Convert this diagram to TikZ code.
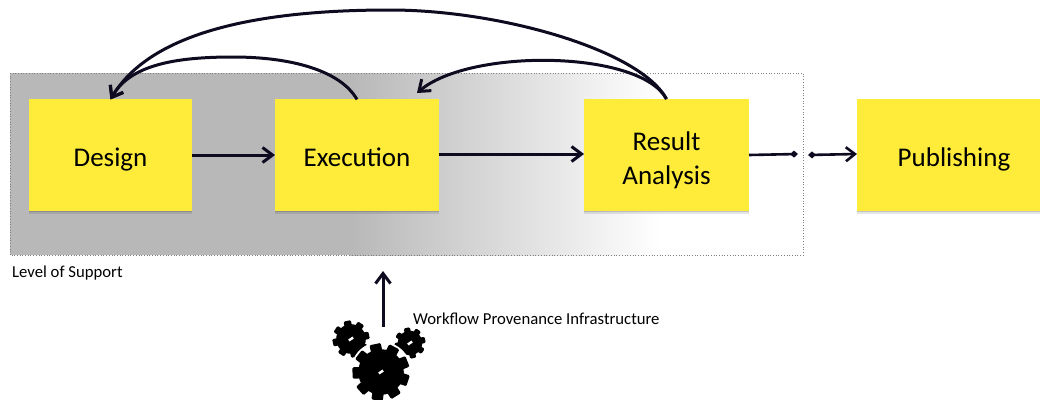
\documentclass[tikz,border=0pt]{standalone}
\usepackage{fontspec}
\setmainfont{Carlito}
\usetikzlibrary{arrows.meta}
\usetikzlibrary{shadows}
\definecolor{stickyyellow}{RGB}{254,235,58}
\definecolor{supportgray}{RGB}{184,184,184}
\definecolor{arrowink}{RGB}{14,10,32}
\newcommand{\boxheight}{111.5pt}
\newcommand{\gear}[4]{% centre x, centre y, radius, teeth
    \fill[black] (#1,#2) circle (#3*0.8);
    \foreach \tooth in {1,...,#4} {
        \fill[black, rounded corners=1.2pt, rotate around={\tooth*360/#4+12:(#1,#2)}]
            (#1-#3*0.2,#2) rectangle (#1+#3*0.2,#2-#3);
    }
    \fill[white, rotate around={35:(#1,#2)}] (#1-2.6,#2-1.2) rectangle (#1+2.6,#2+1.2);
}
\tikzset{
    sticky/.style={fill=stickyyellow, minimum height=\boxheight, inner sep=0pt, outer sep=0pt, font=\fontsize{27}{34}\selectfont, align=center,
        general shadow={shadow yshift=-3pt, opacity=0.1, fill=black},
        general shadow={shadow yshift=-1.5pt, opacity=0.15, fill=black}},
    oneline/.style={text height=28pt, text depth=5.4pt},
    flow/.style={draw=arrowink, line width=3pt, -{Straight Barb[length=10pt, width=15pt, line width=3pt]}},
    stub/.style={draw=arrowink, line width=2.6pt},
    caption/.style={anchor=west, inner sep=0pt, font=\fontsize{16.7}{20}\selectfont}
}
\begin{document}
\begin{tikzpicture}[x=1pt, y=-1pt]
    \useasboundingbox (0,0) rectangle (1040,399);

    \fill[supportgray] (10,73) rectangle (350,255);
    \shade[left color=supportgray, right color=white, shading angle=90] (350,73) rectangle (660,255);
    \draw[gray, dotted, line width=0.7pt] (10,73) rectangle (803,255);

    \node[sticky, oneline, minimum width=163pt] (design) at (110.5,155.2) {Design};
    \node[sticky, oneline, minimum width=164pt] (execution) at (357,155.2) {Execution};
    \node[sticky, minimum width=165pt] (analysis) at (666.5,155.2) {\rule{0pt}{29pt}Result\\Analysis};
    \node[sticky, oneline, minimum width=183pt] (publishing) at (948.5,155.2) {\hspace*{11pt}Publishing};

    \coordinate (stubleft) at (798,154);
    \coordinate (stubright) at (808,155);
    \coordinate (analysistop) at (666.5,99);
    \coordinate (execarrow) at (417,93);
    \coordinate (gearup) at (383,327);
    \coordinate (infratip) at (383,271);

    \draw[flow] (design.east |- 0,155) -- (execution.west |- 0,155);
    \draw[flow] (execution.east |- 0,154) -- (analysis.west |- 0,154);
    \draw[stub, -{Diamond[length=8pt, width=7pt]}] (analysis.east |- 0,155) -- (stubleft);
    \draw[stub, {Diamond[length=8pt, width=7pt]}-{Straight Barb[length=9pt, width=14pt, line width=2.6pt]}] (stubright) -- (publishing.west |- 0,154);

    \draw[flow] (execution.north) .. controls (340,70) and (290,57) .. (233,57) .. controls (175,57) and (130,65) .. (design.north);
    \draw[flow] (analysistop) .. controls (640,50) and (500,10) .. (390,10) .. controls (280,10) and (155,25) .. (design.north);
    \draw[flow] (analysistop) .. controls (640,50) and (470,48) .. (execarrow);
    \draw[flow] (gearup) -- (infratip);

    \node[caption] (support) at (12,273) {Level of Support};
    \node[caption] (infrastructure) at (413,319) {Workflow Provenance Infrastructure};

    \gear{351}{339}{18.5}{8}
    \gear{410}{343}{15.5}{8}
    \fill[white] (381,372) circle (30.5);
    \gear{381}{372}{28.5}{9}
\end{tikzpicture}
\end{document}
